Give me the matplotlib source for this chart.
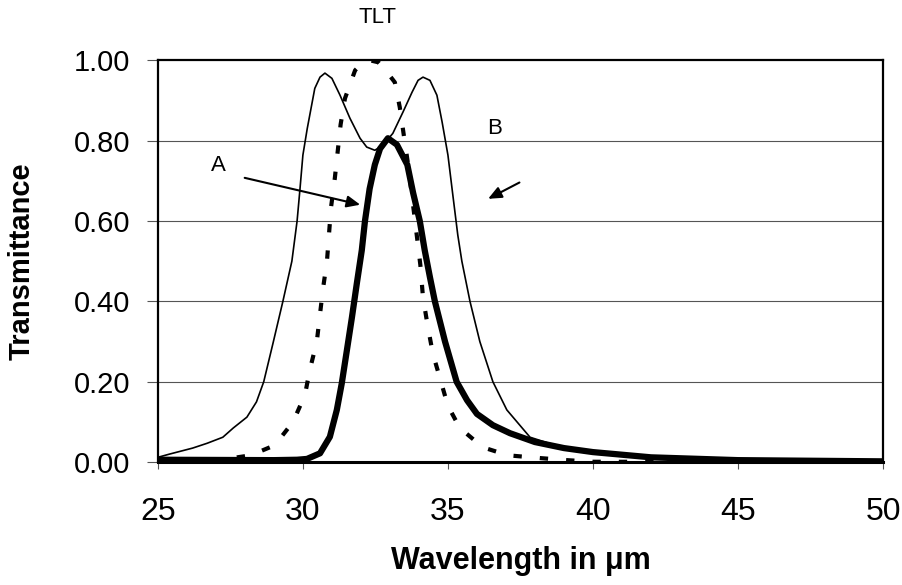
import matplotlib
matplotlib.use('Agg')
import matplotlib.pyplot as plt

plt.rcParams['font.family'] = ['Liberation Sans', 'DejaVu Sans']
plt.rcParams['lines.scale_dashes'] = False

# DATA
thin_x = [25.0, 25.4, 26.2, 26.7, 27.24, 27.6, 28.07, 28.4, 28.65, 28.97, 29.31, 29.62,
          29.8, 29.9, 30.0, 30.15, 30.41, 30.59, 30.76, 31.0, 31.28, 31.62, 31.97, 32.2,
          32.48, 32.76, 33.1, 33.45, 33.76, 33.97, 34.14, 34.38, 34.62, 34.8, 35.0,
          35.17, 35.34, 35.48, 35.76, 36.1, 36.55, 37.03, 37.83, 39.0, 40.0, 41.0,
          42.0, 45.0, 50.0]
thin_y = [0.012, 0.02, 0.035, 0.047, 0.062, 0.085, 0.112, 0.15, 0.20, 0.296, 0.40, 0.50,
          0.60, 0.68, 0.764, 0.83, 0.93, 0.958, 0.968, 0.955, 0.913, 0.856, 0.806, 0.784,
          0.776, 0.789, 0.818, 0.871, 0.92, 0.95, 0.958, 0.95, 0.913, 0.846, 0.764,
          0.664, 0.565, 0.50, 0.40, 0.30, 0.20, 0.13, 0.062, 0.035, 0.025, 0.018,
          0.012, 0.006, 0.003]

thick_x = [25.0, 29.0, 29.8, 30.14, 30.59, 30.93, 31.17, 31.34, 31.52, 31.69, 31.86,
           32.03, 32.14, 32.3, 32.48, 32.66, 32.93, 33.24, 33.6, 33.8, 34.03, 34.2,
           34.38, 34.55, 34.9, 35.3, 35.66, 36.0, 36.55, 37.14, 38.0, 39.0, 40.0,
           42.0, 45.0, 50.0]
thick_y = [0.006, 0.005, 0.006, 0.008, 0.022, 0.063, 0.13, 0.196, 0.28, 0.36, 0.445,
           0.527, 0.60, 0.68, 0.74, 0.78, 0.806, 0.79, 0.74, 0.67, 0.60, 0.527,
           0.46, 0.40, 0.30, 0.20, 0.154, 0.12, 0.092, 0.072, 0.05, 0.035, 0.025,
           0.012, 0.005, 0.002]

dot_x = [25.0, 27.0, 28.2, 29.03, 29.66, 30.07, 30.24, 30.48, 30.69, 30.83, 30.97,
         31.1, 31.3, 31.45, 31.8, 32.0, 32.3, 32.6, 32.8, 33.17, 33.34, 33.48, 33.62,
         33.9, 34.05, 34.14, 34.3, 34.48, 34.72, 35.0, 35.41, 36.2, 37.07, 38.2,
         39.1, 40.0, 50.0]
dot_y = [0.002, 0.004, 0.017, 0.042, 0.10, 0.167, 0.23, 0.30, 0.43, 0.50, 0.634,
         0.706, 0.84, 0.905, 0.975, 0.99, 1.0, 0.995, 0.98, 0.945, 0.883, 0.813, 0.744,
         0.58, 0.49, 0.41, 0.34, 0.27, 0.21, 0.14, 0.085, 0.037, 0.017, 0.01,
         0.005, 0.001, 0.0]

x_ticks = [25, 30, 35, 40, 45, 50]
y_ticks = [0.0, 0.2, 0.4, 0.6, 0.8, 1.0]

fig = plt.figure(figsize=(9.02, 5.85), dpi=100)
ax = fig.add_axes([0.175, 0.210, 0.804, 0.687])

for yv in y_ticks[1:-1]:
    ax.axhline(yv, color='#555555', linewidth=0.8, zorder=1)

ax.plot(dot_x, dot_y, color='black', linewidth=3.0, linestyle=(0, (6, 13)), zorder=3)
ax.plot(thin_x, thin_y, color='black', linewidth=1.2, zorder=4)
ax.plot(thick_x, thick_y, color='black', linewidth=4.5, zorder=5,
        solid_joinstyle='round')

# annotations
ax.text(27.07, 0.737, 'A', fontsize=16, ha='center', va='center')
ax.annotate('', xy=(32.07, 0.639), xytext=(27.9, 0.709),
            arrowprops=dict(arrowstyle='-|>,head_length=0.8,head_width=0.35',
                            color='black', lw=1.5))
ax.text(36.6, 0.83, 'B', fontsize=16, ha='center', va='center')
ax.annotate('', xy=(36.3, 0.652), xytext=(37.55, 0.699),
            arrowprops=dict(arrowstyle='-|>,head_length=0.8,head_width=0.35',
                            color='black', lw=1.5))

fig.text(0.419, 0.970, 'TLT', fontsize=16, ha='center', va='center')

ax.set_xlim(25, 50)
ax.set_ylim(0, 1.0)
ax.set_xticks(x_ticks)
ax.set_yticks(y_ticks)
ax.set_yticklabels(['%.2f' % v for v in y_ticks])
ax.tick_params(axis='both', direction='out', color='#555555')
ax.tick_params(axis='y', labelsize=21, length=8, width=0.8, pad=12)
ax.tick_params(axis='x', labelsize=23, length=5, width=0.8, pad=20)

for s in ax.spines.values():
    s.set_linewidth(1.6)
    s.set_color('black')
ax.spines['bottom'].set_linewidth(2.2)

ax.set_xlabel('Wavelength in \u03bcm', fontsize=22, fontweight='bold', labelpad=14)
ax.set_ylabel('Transmittance', fontsize=21, fontweight='bold', labelpad=27)

fig.savefig('out.png', dpi=100)
plt.close(fig)
